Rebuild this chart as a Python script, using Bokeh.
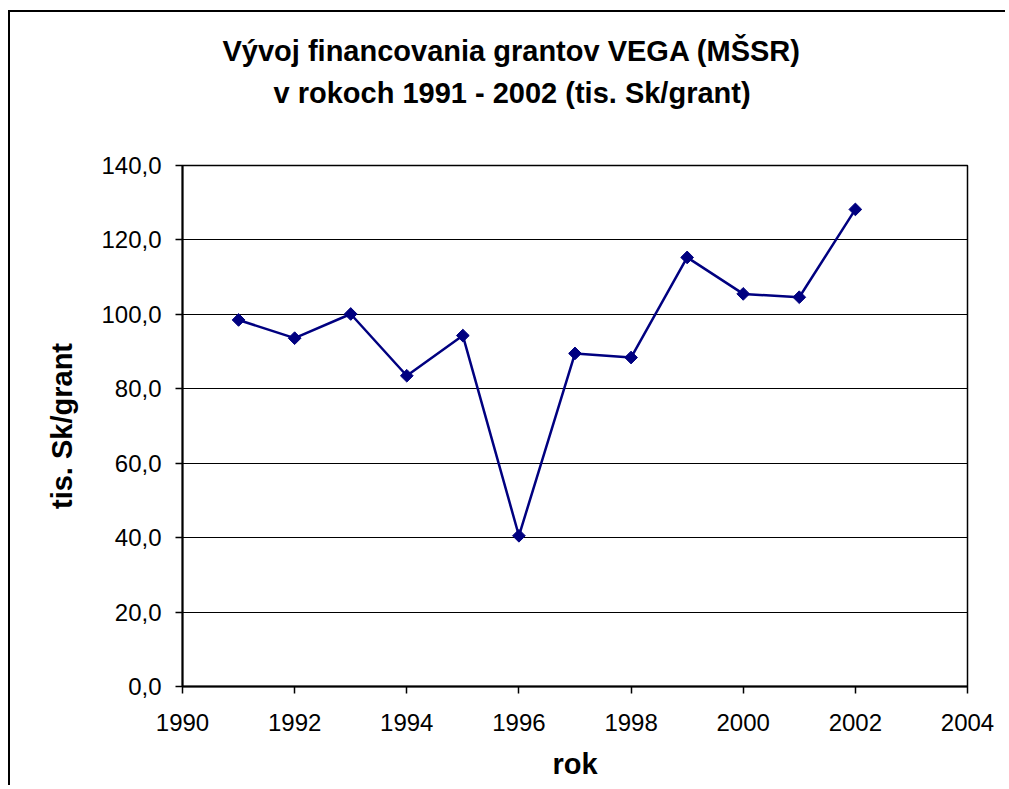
import numpy as np
from bokeh.plotting import figure
from bokeh.models import Title, FixedTicker, Range1d
from bokeh.embed import file_html
from bokeh.resources import INLINE

# ---- data ----
years = [1991, 1992, 1993, 1994, 1995, 1996, 1997, 1998, 1999, 2000, 2001, 2002]
values = [98.5, 93.6, 100.1, 83.5, 94.3, 40.5, 89.5, 88.4, 115.3, 105.5, 104.6, 128.2]
x_ticks = [1990, 1992, 1994, 1996, 1998, 2000, 2002, 2004]
y_ticks = [0, 20, 40, 60, 80, 100, 120, 140]
y_tick_labels = ["0,0", "20,0", "40,0", "60,0", "80,0", "100,0", "120,0", "140,0"]
title_line1 = "Vývoj financovania grantov VEGA (MŠSR)"
title_line2 = "v rokoch 1991 - 2002 (tis. Sk/grant)"
x_label = "rok"
y_label = "tis. Sk/grant"

FONT = "Liberation Sans"

p = figure(width=997, height=775, output_backend="svg", toolbar_location=None,
           x_range=Range1d(1990, 2004), y_range=Range1d(0, 140),
           min_border_left=172, min_border_right=40, min_border_top=153, min_border_bottom=101)
p.title.visible = False
p.styles = {"border-left": "2px solid black", "border-top": "2px solid black",
            "margin-left": "8px", "margin-top": "10px"}

spacer = Title(text=" ", align="left", text_font=FONT, text_font_size="29px", standoff=19)
t2 = Title(text=title_line2, align="left", offset=91, text_font=FONT, text_font_size="29px",
           text_font_style="bold", text_color="black", standoff=8)
t1 = Title(text=title_line1, align="left", offset=40, text_font=FONT, text_font_size="29px",
           text_font_style="bold", text_color="black", standoff=8)
p.add_layout(spacer, "above")
p.add_layout(t2, "above")
p.add_layout(t1, "above")

p.outline_line_color = "black"
p.outline_line_width = 1.5
p.background_fill_color = "white"
p.border_fill_color = "white"

p.xgrid.visible = False
p.ygrid.grid_line_color = "black"
p.ygrid.grid_line_width = 1
p.ygrid.ticker = FixedTicker(ticks=y_ticks)

p.xaxis.ticker = FixedTicker(ticks=x_ticks)
p.yaxis.ticker = FixedTicker(ticks=y_ticks)
p.yaxis.major_label_overrides = {t: l for t, l in zip(y_ticks, y_tick_labels)}

for ax in (p.xaxis[0], p.yaxis[0]):
    ax.axis_line_color = "black"
    ax.axis_line_width = 2
    ax.major_tick_line_color = "black"
    ax.major_tick_line_width = 1.5
    ax.major_tick_in = 0
    ax.major_tick_out = 7
    ax.minor_tick_line_color = None
    ax.major_label_text_font = FONT
    ax.major_label_text_font_size = "24px"
    ax.major_label_text_color = "black"
    ax.axis_label_text_font = FONT
    ax.axis_label_text_font_size = "29px"
    ax.axis_label_text_font_style = "bold"
    ax.axis_label_text_color = "black"

p.xaxis.axis_label = x_label
p.yaxis.axis_label = y_label
p.xaxis.major_label_standoff = 20
p.yaxis.major_label_standoff = 14
p.xaxis.axis_label_standoff = 14
p.yaxis.axis_label_standoff = 20

p.line(years, values, line_color="#000080", line_width=2.5)
p.scatter(years, values, marker="square", angle=np.pi / 4, size=9,
          fill_color="#000080", line_color="#000080")

open("out.html", "w").write(file_html(p, INLINE))
